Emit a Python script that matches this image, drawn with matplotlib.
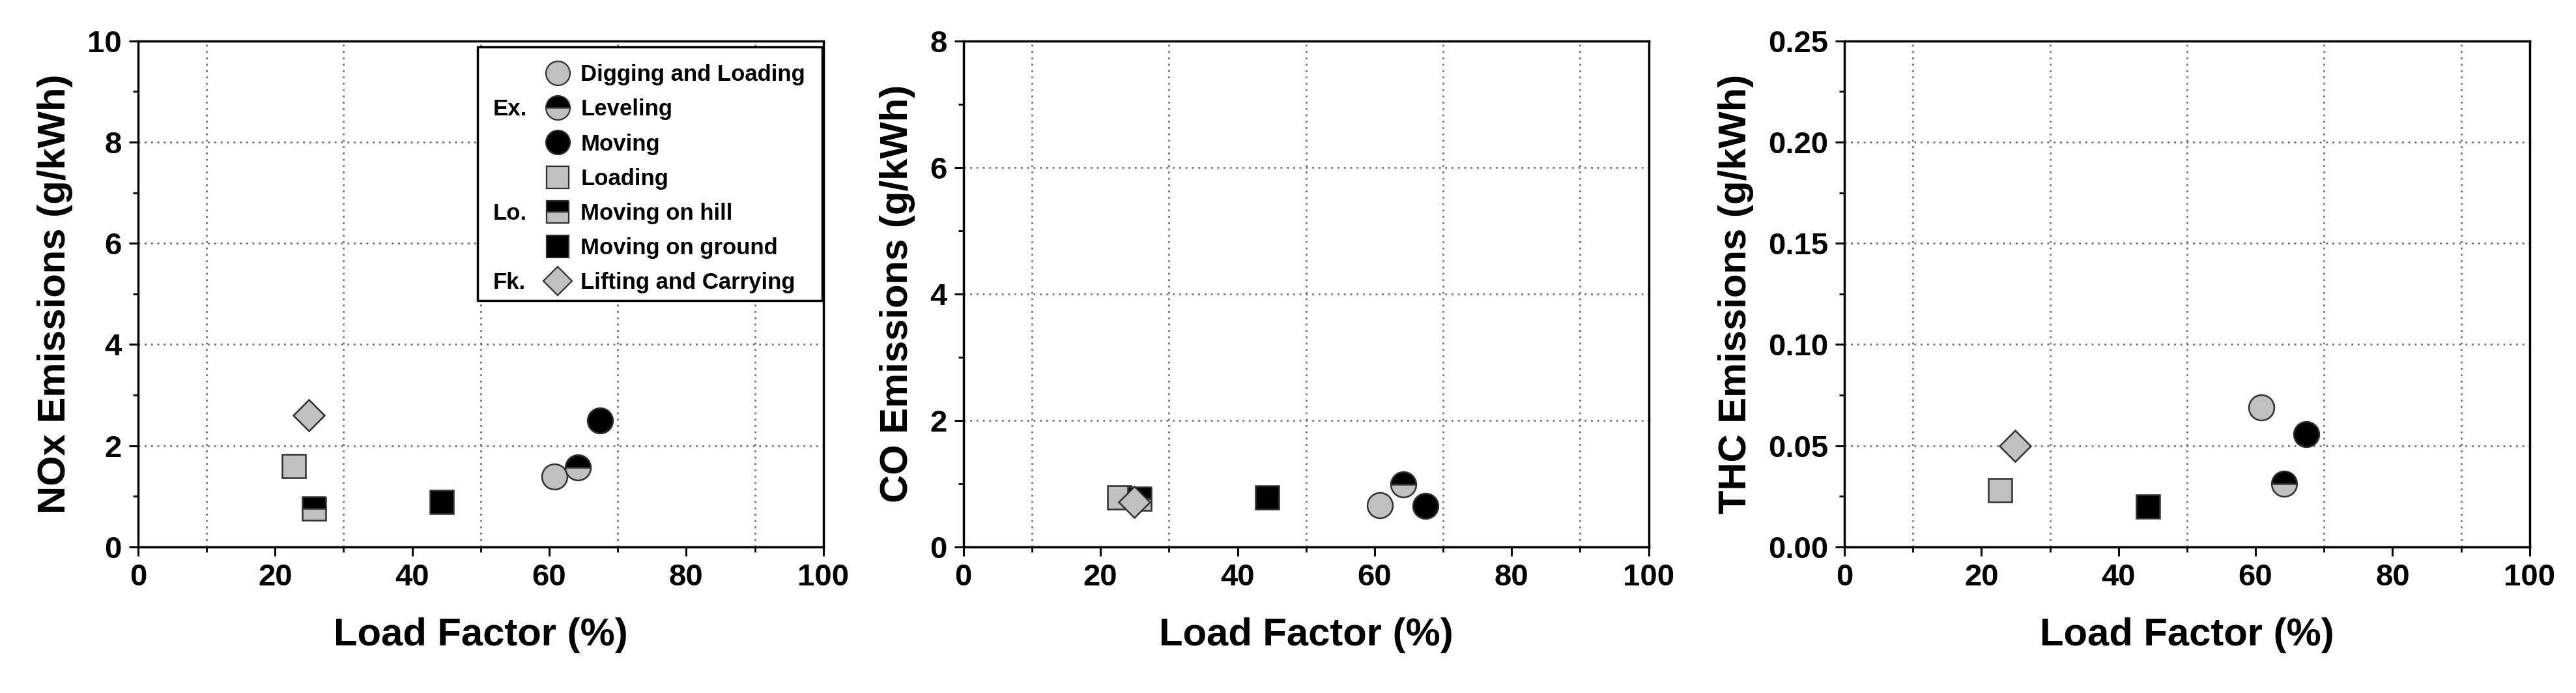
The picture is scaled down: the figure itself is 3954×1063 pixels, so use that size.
import numpy as np
import matplotlib
matplotlib.use("Agg")
import matplotlib.pyplot as plt
from matplotlib.lines import Line2D
from matplotlib.patches import Rectangle

plt.rcParams['font.family'] = ['Liberation Sans', 'DejaVu Sans']
plt.rcParams['font.weight'] = 'bold'

# Datos
modes = ["Digging and Loading", "Leveling", "Moving",
         "Loading", "Moving on hill", "Moving on ground",
         "Lifting and Carrying"]
load_factor = [60.8, 64.2, 67.4, 22.7, 25.7, 44.3, 24.9]
nox = [1.39, 1.57, 2.49, 1.59, 0.76, 0.89, 2.60]
co = [0.66, 0.99, 0.65, 0.78, 0.76, 0.78, 0.71]
thc = [0.069, 0.031, 0.0557, 0.028, np.nan, 0.020, 0.050]

groups = ["Ex.", "Lo.", "Fk."]
group_rows = [1, 4, 6]

gray = "#c0c0c0"
edge = "#303030"
styles = [
    dict(marker="o", mfc=gray, ms=28),
    dict(marker="o", mfc="black", mfcalt=gray, fillstyle="top", ms=28),
    dict(marker="o", mfc="black", ms=28),
    dict(marker="s", mfc=gray, ms=26),
    dict(marker="s", mfc="black", mfcalt=gray, fillstyle="top", ms=26),
    dict(marker="s", mfc="black", ms=26),
    dict(marker="D", mfc=gray, ms=24),
]

panels = [
    (nox, "NOx Emissions (g/kWh)", (0, 10), np.arange(0, 11, 2), np.arange(1, 10, 2), "{:.0f}"),
    (co, "CO Emissions (g/kWh)", (0, 8), np.arange(0, 9, 2), np.arange(1, 8, 2), "{:.0f}"),
    (thc, "THC Emissions (g/kWh)", (0, 0.25), np.arange(0, 0.26, 0.05), np.arange(0.025, 0.25, 0.05), "{:.2f}"),
]

lefts = [0.0536, 0.374, 0.716]
width = 0.266
bottom = 0.211
height = 0.730

fig = plt.figure(figsize=(39.54, 10.63), dpi=100)
axes = []
for left, (vals, ylab, ylim, yt, ymt, fmt) in zip(lefts, panels):
    ax = fig.add_axes([left, bottom, width, height])
    for i in range(len(modes)):
        st = styles[i]
        ax.plot(load_factor[i], vals[i], linestyle="none", marker=st["marker"],
                markersize=st["ms"], markerfacecolor=st["mfc"],
                markerfacecoloralt=st.get("mfcalt", st["mfc"]),
                fillstyle=st.get("fillstyle", "full"),
                markeredgecolor=edge, markeredgewidth=1.8, zorder=5)
    ax.set_xlim(0, 100)
    ax.set_ylim(*ylim)
    ax.set_xticks(np.arange(0, 101, 20))
    ax.set_xticks(np.arange(10, 100, 20), minor=True)
    ax.set_yticks(yt)
    ax.set_yticks(ymt, minor=True)
    ax.set_yticklabels([fmt.format(v) for v in yt])
    ax.grid(True, which="minor", axis="x", linestyle=(0, (1, 2.5)), color="#707070", linewidth=2)
    ax.grid(True, which="major", axis="y", linestyle=(0, (1, 2.5)), color="#707070", linewidth=2)
    ax.tick_params(which="major", direction="out", length=10, width=2.2, labelsize=34, pad=8)
    ax.tick_params(which="minor", direction="out", length=6, width=2.0)
    for s in ax.spines.values():
        s.set_linewidth(2.5)
    ax.set_xlabel("Load Factor (%)", fontsize=43, fontweight="bold", labelpad=28)
    ax.set_ylabel(ylab, fontsize=43, fontweight="bold", labelpad=16)
    axes.append(ax)

# Leyenda en el primer panel
ax = axes[0]
handles = []
for i, m in enumerate(modes):
    st = styles[i]
    handles.append(Line2D([], [], linestyle="none", marker=st["marker"],
                          markersize=st["ms"] * 0.95, markerfacecolor=st["mfc"],
                          markerfacecoloralt=st.get("mfcalt", st["mfc"]),
                          fillstyle=st.get("fillstyle", "full"),
                          markeredgecolor=edge, markeredgewidth=1.6))
leg = ax.legend(handles, modes, loc="upper right", bbox_to_anchor=(1.0, 0.99),
                frameon=False, labelspacing=0.58, handletextpad=0.5,
                borderpad=0.3, handlelength=1.0, prop={"weight": "bold", "size": 25})
leg.set_zorder(10)

fig.canvas.draw()
renderer = fig.canvas.get_renderer()
inv = ax.transAxes.inverted()
bb = leg.get_window_extent(renderer)
(x0, y0), (x1, y1) = inv.transform([(bb.x0, bb.y0), (bb.x1, bb.y1)])
frame = Rectangle((0.495, y0), 0.998 - 0.495, 0.988 - y0, transform=ax.transAxes,
                  facecolor="white", edgecolor="black", linewidth=2.5, zorder=9)
ax.add_patch(frame)

texts = leg.get_texts()
for g, r in zip(groups, group_rows):
    tb = texts[r].get_window_extent(renderer)
    yc = inv.transform((0, (tb.y0 + tb.y1) / 2))[1]
    ax.text(0.518, yc, g, transform=ax.transAxes, fontsize=25, fontweight="bold",
            va="center", ha="left", zorder=11)

fig.savefig("out.png", dpi=100)
